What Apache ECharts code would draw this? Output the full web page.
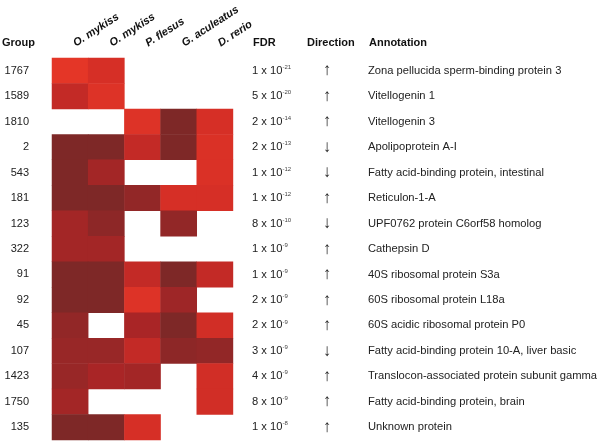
<!DOCTYPE html>
<html>
<head>
<meta charset="utf-8">
<script src="https://cdn.jsdelivr.net/npm/echarts@6/dist/echarts.min.js"></script>
<style>
  html, body { margin: 0; padding: 0; background: #fff; }
  #chart { width: 600px; height: 441px; }
</style>
</head>
<body>
<div id="chart"></div>
<script>
// 列：物种
var species = ['O. mykiss', 'O. mykiss', 'P. flesus', 'G. aculeatus', 'D. rerio'];
// 行：group 编号
var groups = ['1767', '1589', '1810', '2', '543', '181', '123', '322', '91', '92', '45', '107', '1423', '1750', '135'];
// FDR = mant x 10^exp
var fdrMant = [1, 5, 2, 2, 1, 1, 8, 1, 1, 2, 2, 3, 4, 8, 1];
var fdrExp = [-21, -20, -14, -13, -12, -12, -10, -9, -9, -9, -9, -9, -9, -9, -8];
var direction = ['up', 'up', 'up', 'down', 'down', 'up', 'down', 'up', 'up', 'up', 'up', 'down', 'up', 'up', 'up'];
var annotation = [
    'Zona pellucida sperm-binding protein 3',
    'Vitellogenin 1',
    'Vitellogenin 3',
    'Apolipoprotein A-I',
    'Fatty acid-binding protein, intestinal',
    'Reticulon-1-A',
    'UPF0762 protein C6orf58 homolog',
    'Cathepsin D',
    '40S ribosomal protein S3a',
    '60S ribosomal protein L18a',
    '60S acidic ribosomal protein P0',
    'Fatty acid-binding protein 10-A, liver basic',
    'Translocon-associated protein subunit gamma',
    'Fatty acid-binding protein, brain',
    'Unknown protein'
];
// 颜色深浅（0 = 亮红，10 = 暗红），null = 空白
var shade = [
    [0, 2, null, null, null],
    [4, 1, null, null, null],
    [null, null, 1, 10, 2],
    [10, 10, 4, 10, 1.5],
    [10, 6.5, null, null, 1.5],
    [10, 10, 8, 2, 2],
    [6.5, 8.5, null, 8, null],
    [6.5, 6.5, null, null, null],
    [10, 10, 4, 10, 4],
    [10, 10, 1, 7, null],
    [8, null, 6, 10, 2.5],
    [7.5, 7.5, 4, 8.5, 8],
    [7.5, 6, 6.5, null, 2.5],
    [6.5, null, null, null, 2.5],
    [10, 10, 2, null, null]
];

var font = '"Liberation Sans", Arial, sans-serif';

var cells = [];
shade.forEach(function (row, r) {
    row.forEach(function (v, c) {
        if (v !== null) cells.push([c, r, v]);
    });
});

var chart = echarts.init(document.getElementById('chart'));

function header(text, x, align) {
    return {
        type: 'text', left: x, top: 37,
        style: { text: text, fill: '#111', font: 'bold 11px ' + font, textAlign: align || 'left' }
    };
}

var hiddenAxis = { axisLine: { show: false }, axisTick: { show: false }, splitLine: { show: false } };

chart.setOption({
    animation: false,
    grid: { left: 52, right: 366, top: 58, bottom: 1 },
    xAxis: Object.assign({
        type: 'category', position: 'top', data: species,
        axisLabel: {
            rotate: -33, margin: 11, interval: 0, padding: [0, 0, 0, 5],
            fontFamily: font, fontSize: 11, fontWeight: 'bold', fontStyle: 'italic', color: '#111'
        }
    }, hiddenAxis),
    yAxis: [
        Object.assign({
            type: 'category', inverse: true, data: groups, position: 'left',
            axisLabel: { margin: 23, fontFamily: font, fontSize: 11, color: '#222' }
        }, hiddenAxis),
        Object.assign({
            type: 'category', inverse: true, data: groups, position: 'right', offset: 0,
            axisLabel: {
                margin: 19, align: 'left', interval: 0,
                formatter: function (v, i) {
                    return '{n|' + fdrMant[i] + ' x 10}{s|' + fdrExp[i] + '}';
                },
                rich: {
                    n: { fontFamily: font, fontSize: 11.2, color: '#222' },
                    s: { fontFamily: font, fontSize: 6, color: '#444', padding: [0, 0, 7, 0] }
                }
            }
        }, hiddenAxis),
        Object.assign({
            type: 'category', inverse: true, data: groups, position: 'right', offset: 94,
            axisLabel: {
                margin: 0, align: 'center', interval: 0,
                fontFamily: font, fontSize: 17, color: '#222',
                formatter: function (v, i) { return direction[i] === 'up' ? '↑' : '↓'; }
            }
        }, hiddenAxis),
        Object.assign({
            type: 'category', inverse: true, data: groups, position: 'right', offset: 135,
            axisLabel: {
                margin: 0, align: 'left', interval: 0,
                fontFamily: font, fontSize: 11.2, color: '#222',
                formatter: function (v, i) { return annotation[i]; }
            }
        }, hiddenAxis)
    ],
    visualMap: {
        show: false, type: 'continuous', min: 0, max: 10, dimension: 2,
        inRange: { color: ['#e43627', '#d62f26', '#c32a26', '#a92526', '#922727', '#7e2827'] }
    },
    graphic: [
        header('Group', 2),
        header('FDR', 253),
        header('Direction', 307),
        header('Annotation', 369)
    ],
    series: [{
        type: 'heatmap',
        xAxisIndex: 0, yAxisIndex: 0,
        data: cells,
        itemStyle: { borderWidth: 0 },
        emphasis: { disabled: true }
    }]
});
</script>
</body>
</html>
